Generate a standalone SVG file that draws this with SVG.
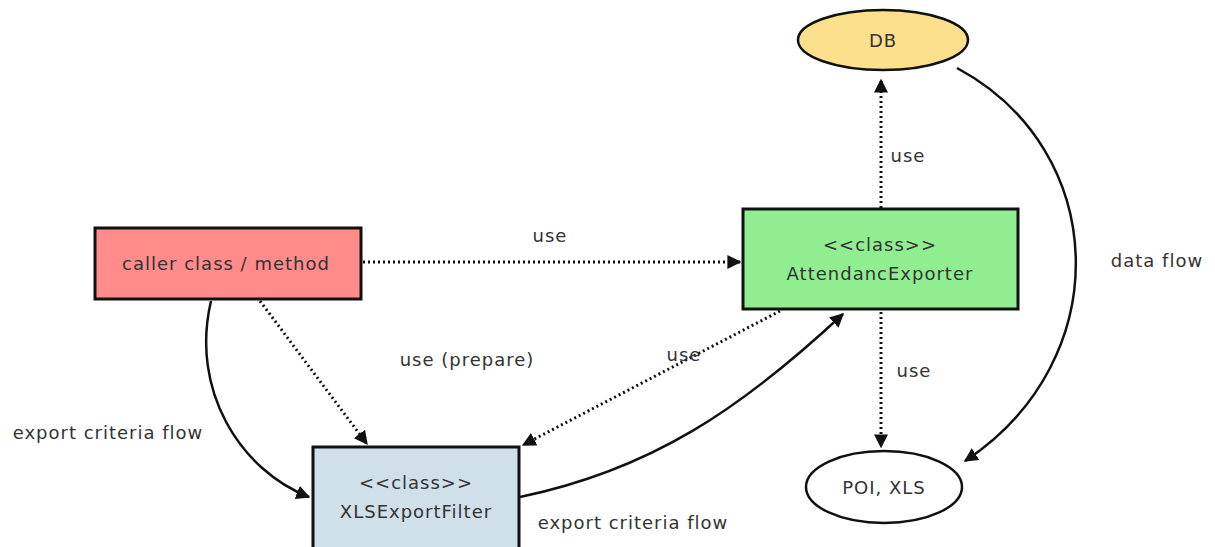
<svg xmlns="http://www.w3.org/2000/svg" width="1215" height="547" viewBox="0 0 1215 547">
<style>
text{font-family:"DejaVu Sans","Liberation Sans",sans-serif;font-size:18px;letter-spacing:1px;fill:#333;text-anchor:middle}
.box{stroke:#111;stroke-width:3}
.ell{stroke:#111;stroke-width:2.5}
.dot{fill:none;stroke:#111;stroke-width:3;stroke-dasharray:2 3}
.sol{fill:none;stroke:#111;stroke-width:2.5}
</style>
<defs>
<marker id="ah" viewBox="0 0 10 10" refX="9" refY="5" markerWidth="14" markerHeight="14" markerUnits="userSpaceOnUse" orient="auto">
<path d="M0,0 L10,5 L0,10 z" fill="#111"/>
</marker>
</defs>
<rect width="1215" height="547" fill="#fff"/>
<g id="connectors">
<path class="dot" d="M363,262 L740,262" marker-end="url(#ah)"/>
<text x="550" y="242">use</text>
<path class="dot" d="M260,301 L367,444" marker-end="url(#ah)"/>
<text x="467" y="366">use (prepare)</text>
<path class="sol" d="M211,301 C190,390 240,470 309,497" marker-end="url(#ah)"/>
<text x="108" y="439">export criteria flow</text>
<path class="sol" d="M520,497 C650,470 740,410 843,314" marker-end="url(#ah)"/>
<text x="633" y="529">export criteria flow</text>
<path class="dot" d="M780,311 L523,445" marker-end="url(#ah)"/>
<text x="684" y="361">use</text>
<path class="dot" d="M881,208 L881,80" marker-end="url(#ah)"/>
<text x="908" y="162">use</text>
<path class="dot" d="M881,312 L881,447" marker-end="url(#ah)"/>
<text x="914" y="377">use</text>
<path class="sol" d="M957,68 C1110,150 1118,360 965,461" marker-end="url(#ah)"/>
<text x="1157" y="267">data flow</text>
</g>
<g id="caller">
<rect class="box" x="95" y="228" width="266" height="71" fill="#ff8b8b"/>
<text x="226" y="270">caller class / method</text>
</g>
<g id="attendanc">
<rect class="box" x="743" y="209" width="275" height="100" fill="#90ee90"/>
<text x="880" y="251">&lt;&lt;class&gt;&gt;</text>
<text x="880" y="280">AttendancExporter</text>
</g>
<g id="xls">
<rect class="box" x="313" y="447" width="206" height="104" fill="#cfe0e8"/>
<text x="416" y="489">&lt;&lt;class&gt;&gt;</text>
<text x="416" y="518">XLSExportFilter</text>
</g>
<g id="db">
<ellipse class="ell" cx="883" cy="40" rx="85" ry="30" fill="#fde08b"/>
<text x="883" y="47">DB</text>
</g>
<g id="poi">
<ellipse class="ell" cx="884" cy="487" rx="78" ry="36" fill="#fff"/>
<text x="884" y="494">POI, XLS</text>
</g>
</svg>
